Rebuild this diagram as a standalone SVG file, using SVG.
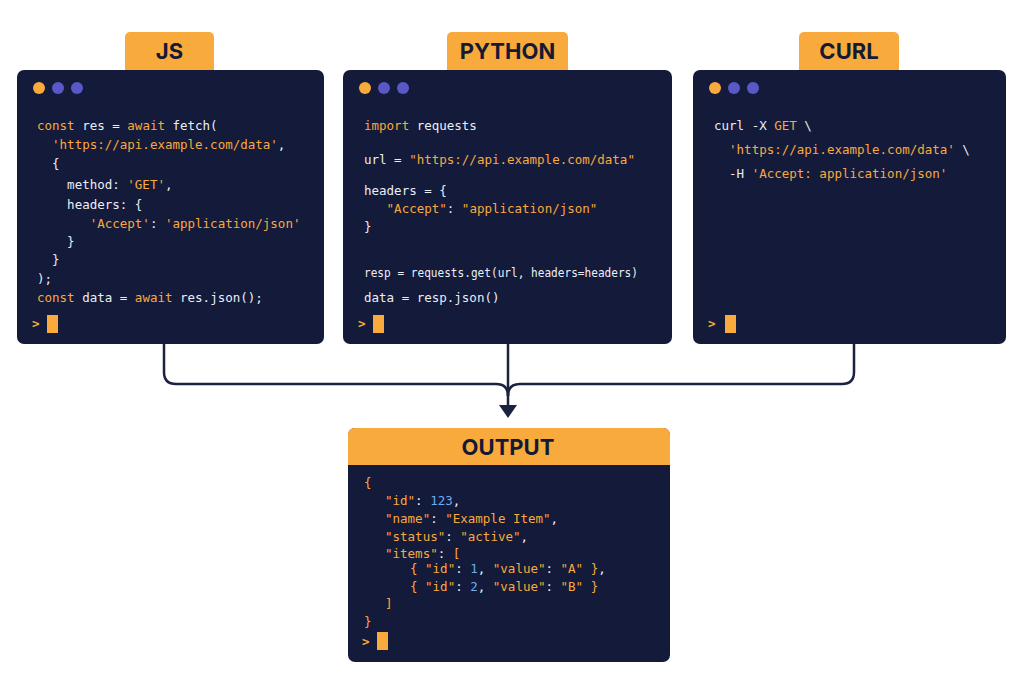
<svg xmlns="http://www.w3.org/2000/svg" width="1024" height="683" viewBox="0 0 1024 683">
<style>
.panel{fill:#131a3a}
.tab{fill:#f9aa3c}
.tt{font-family:Inter,"DejaVu Sans",sans-serif;font-weight:700;font-size:22px;fill:#151a33;text-anchor:middle}
.c{font-family:"DejaVu Sans Mono",monospace;font-size:12.5px;fill:#eceef5;white-space:pre}
.o{fill:#f9aa3c}
.b{fill:#6aaef0}
.dy{fill:#f9aa3c}
.dp{fill:#5a58c6}
.cur{fill:#f9aa3c}
.conn{fill:none;stroke:#1b2240;stroke-width:2.5}
</style>
<rect width="1024" height="683" fill="#fff"/>
<g id="connectors">
<path class="conn" d="M164,344 V372 Q164,384 176,384 H496 Q508,384 508,396"/>
<path class="conn" d="M854,344 V372 Q854,384 842,384 H520 Q508,384 508,396"/>
<path class="conn" d="M508,344 V406"/>
<path d="M499,405 L517,405 L508,418z" fill="#1b2240"/>
</g>
<g id="js">
<rect class="tab" x="125" y="32" width="89" height="46" rx="5"/>
<text class="tt" x="169.5" y="59">JS</text>
<rect class="panel" x="17" y="70" width="307" height="274" rx="7"/>
<circle class="dy" cx="39" cy="88" r="6"/><circle class="dp" cx="58" cy="88" r="6"/><circle class="dp" cx="77" cy="88" r="6"/>
<text class="c" x="37" y="130"><tspan class="o">const</tspan> res = <tspan class="o">await</tspan> fetch(</text>
<text class="c" x="37" y="149">  <tspan class="o">'https://api.example.com/data'</tspan>,</text>
<text class="c" x="37" y="168">  {</text>
<text class="c" x="37" y="189">    method: <tspan class="o">'GET'</tspan>,</text>
<text class="c" x="37" y="209">    headers: {</text>
<text class="c" x="37" y="228">       <tspan class="o">'Accept'</tspan>: <tspan class="o">'application/json'</tspan></text>
<text class="c" x="37" y="246">    }</text>
<text class="c" x="37" y="264">  }</text>
<text class="c" x="37" y="283">);</text>
<text class="c" x="37" y="302"><tspan class="o">const</tspan> data = <tspan class="o">await</tspan> res.json();</text>
<text class="c o" x="32" y="328" font-weight="700">&gt;</text>
<rect class="cur" x="47" y="315" width="11" height="18"/>
</g>
<g id="python">
<rect class="tab" x="447" y="32" width="121" height="46" rx="5"/>
<text class="tt" x="507.5" y="59">PYTHON</text>
<rect class="panel" x="343" y="70" width="329" height="274" rx="7"/>
<circle class="dy" cx="365" cy="88" r="6"/><circle class="dp" cx="384" cy="88" r="6"/><circle class="dp" cx="403" cy="88" r="6"/>
<text class="c" x="364" y="130"><tspan class="o">import</tspan> requests</text>
<text class="c" x="364" y="164">url = <tspan class="o">"https://api.example.com/data"</tspan></text>
<text class="c" x="364" y="195">headers = {</text>
<text class="c" x="364" y="213">   <tspan class="o">"Accept"</tspan>: <tspan class="o">"application/json"</tspan></text>
<text class="c" x="364" y="231">}</text>
<text class="c" x="364" y="277" textLength="274" lengthAdjust="spacingAndGlyphs">resp = requests.get(url, headers=headers)</text>
<text class="c" x="364" y="302">data = resp.json()</text>
<text class="c o" x="358" y="328" font-weight="700">&gt;</text>
<rect class="cur" x="373" y="315" width="11" height="18"/>
</g>
<g id="curl">
<rect class="tab" x="799" y="32" width="100" height="46" rx="5"/>
<text class="tt" x="849" y="59">CURL</text>
<rect class="panel" x="693" y="70" width="313" height="274" rx="7"/>
<circle class="dy" cx="715" cy="88" r="6"/><circle class="dp" cx="734" cy="88" r="6"/><circle class="dp" cx="753" cy="88" r="6"/>
<text class="c" x="714" y="130">curl -X <tspan class="o">GET</tspan> \</text>
<text class="c" x="714" y="154">  <tspan class="o">'https://api.example.com/data'</tspan> \</text>
<text class="c" x="714" y="178">  -H <tspan class="o">'Accept: application/json'</tspan></text>
<text class="c o" x="708" y="328" font-weight="700">&gt;</text>
<rect class="cur" x="725" y="315" width="11" height="18"/>
</g>
<g id="output">
<rect class="panel" x="348" y="428" width="322" height="234" rx="7"/>
<path class="tab" d="M355,428 H663 Q670,428 670,435 V465 H348 V435 Q348,428 355,428z"/>
<text class="tt" x="508" y="455">OUTPUT</text>
<text class="c o" x="364" y="487">{</text>
<text class="c o" x="385" y="505">"id"<tspan fill="#eceef5">:</tspan> <tspan class="b">123</tspan><tspan fill="#eceef5">,</tspan></text>
<text class="c o" x="385" y="523">"name"<tspan fill="#eceef5">:</tspan> "Example Item"<tspan fill="#eceef5">,</tspan></text>
<text class="c o" x="385" y="541">"status"<tspan fill="#eceef5">:</tspan> "active"<tspan fill="#eceef5">,</tspan></text>
<text class="c o" x="385" y="558">"items"<tspan fill="#eceef5">:</tspan> [</text>
<text class="c o" x="410" y="573">{ "id"<tspan fill="#eceef5">:</tspan> <tspan class="b">1</tspan><tspan fill="#eceef5">,</tspan> "value"<tspan fill="#eceef5">:</tspan> "A" }<tspan fill="#eceef5">,</tspan></text>
<text class="c o" x="410" y="591">{ "id"<tspan fill="#eceef5">:</tspan> <tspan class="b">2</tspan><tspan fill="#eceef5">,</tspan> "value"<tspan fill="#eceef5">:</tspan> "B" }</text>
<text class="c o" x="385" y="608">]</text>
<text class="c o" x="364" y="626">}</text>
<text class="c o" x="362" y="646" font-weight="700">&gt;</text>
<rect class="cur" x="377" y="632" width="11" height="18"/>
</g>
</svg>
